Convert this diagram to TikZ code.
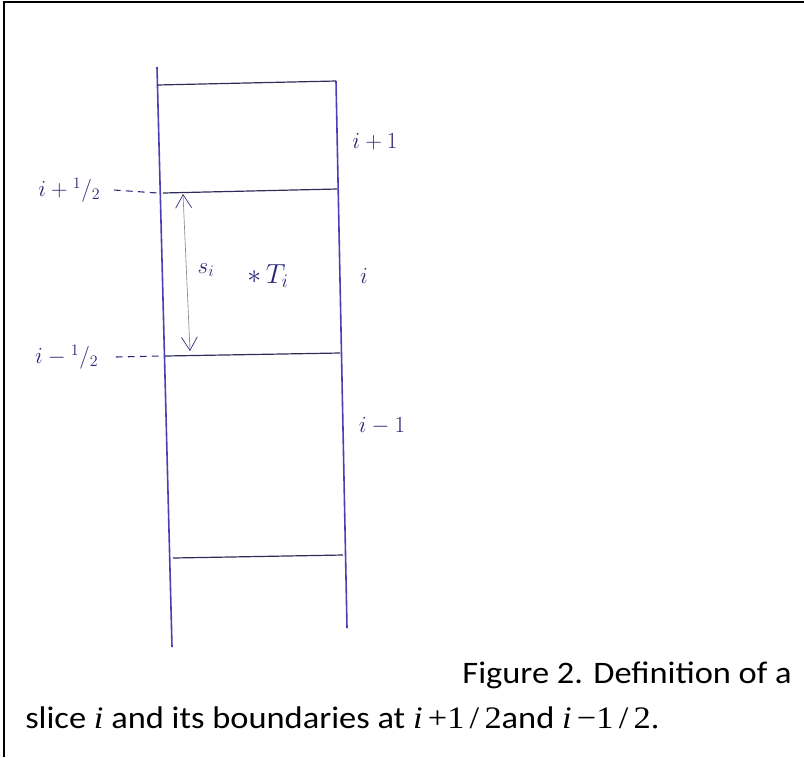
\documentclass[tikz,border=0pt]{standalone}
\usepackage{fontspec}
\setmainfont{Carlito}
\newfontfamily\capfont[FakeStretch=1.1]{Carlito}
\newfontfamily\timesfont[FakeStretch=1.1]{Liberation Serif}
\usetikzlibrary{positioning,arrows.meta}
\definecolor{ink}{RGB}{42,38,118}
\definecolor{pen}{RGB}{72,64,180}
\definecolor{rulecol}{RGB}{46,44,90}
\newcommand{\mi}[1]{{\timesfont\itshape #1}}
\newcommand{\mr}[1]{{\timesfont #1}}

\begin{document}
\begin{tikzpicture}[x=0.0264cm,y=-0.0264cm,>=Stealth,
  wall/.style={pen,line width=1.2pt},
  face/.style={rulecol,line width=0.9pt},
  lbl/.style={ink,font=\LARGE,inner sep=1pt},
  lead/.style={ink,line width=0.8pt,dash pattern=on 5pt off 4pt},
  caption/.style={font=\capfont\fontsize{23.5}{28}\selectfont,inner sep=0pt}]
  \useasboundingbox (0,0) rectangle (804,757);
  \draw[line width=1.4pt] (4,757) -- (4,2) -- (804,2);
  % the two walls of the column
  \coordinate (lt) at (157,67);  \coordinate (lb) at (172,647);
  \coordinate (rt) at (336,81);  \coordinate (rb) at (347,628);
  \draw[wall] (lt) -- (lb);
  \draw[wall] (rt) -- (rb);
  % slice faces
  \foreach \nm/\xl/\yl/\xr/\yr in {top/157/85/336/81,up/163/193/337/189,
      down/165/356/340/353,bot/173/558/343/555}{
    \coordinate (\nm-l) at (\xl,\yl);
    \coordinate (\nm-r) at (\xr,\yr);
    \draw[face] (\nm-l) -- (\nm-r);
  }
  % boundary labels
  \node[lbl,anchor=east] (iplus) at (102,190) {$i+{}^1/_2$};
  \node[lbl,anchor=east] (iminus) at (100,357) {$i-{}^1/_2$};
  \draw[lead] ([xshift=9pt]iplus.east) -- ([xshift=-4pt]up-l);
  \draw[lead] ([xshift=12pt]iminus.east) -- ([xshift=-3pt]down-l);
  % thickness of slice i
  \coordinate (ta) at (183,194);
  \coordinate (tb) at (190,351);
  \draw[{Straight Barb[color=ink,length=10pt,width=12pt]}-{Straight Barb[color=ink,length=10pt,width=12pt]},
    black!45,line width=0.5pt] (ta) -- (tb);
  \node[lbl] (si) at (206,270) {$s_i$};
  \node[lbl,font=\huge] (ti) at (268,276) {$*\,T_i$};
  % slice indices
  \node[lbl] (nup) at (375,142) {$i+1$};
  \node[lbl] (nmid) at (364,276) {$i$};
  \node[lbl] (ndn) at (382,426) {$i-1$};
  % caption
  \node[caption,anchor=base east] (cap1) at (792,683) {Figure 2. Definition of a};
  \node[caption,anchor=base west] (cap2) at (25,728)
    {slice \mi{i} and its boundaries at \mi{i}\,\mr{+1\,/\,2}and \mi{i}\,\mr{\textminus1\,/\,2.}};
\end{tikzpicture}
\end{document}
